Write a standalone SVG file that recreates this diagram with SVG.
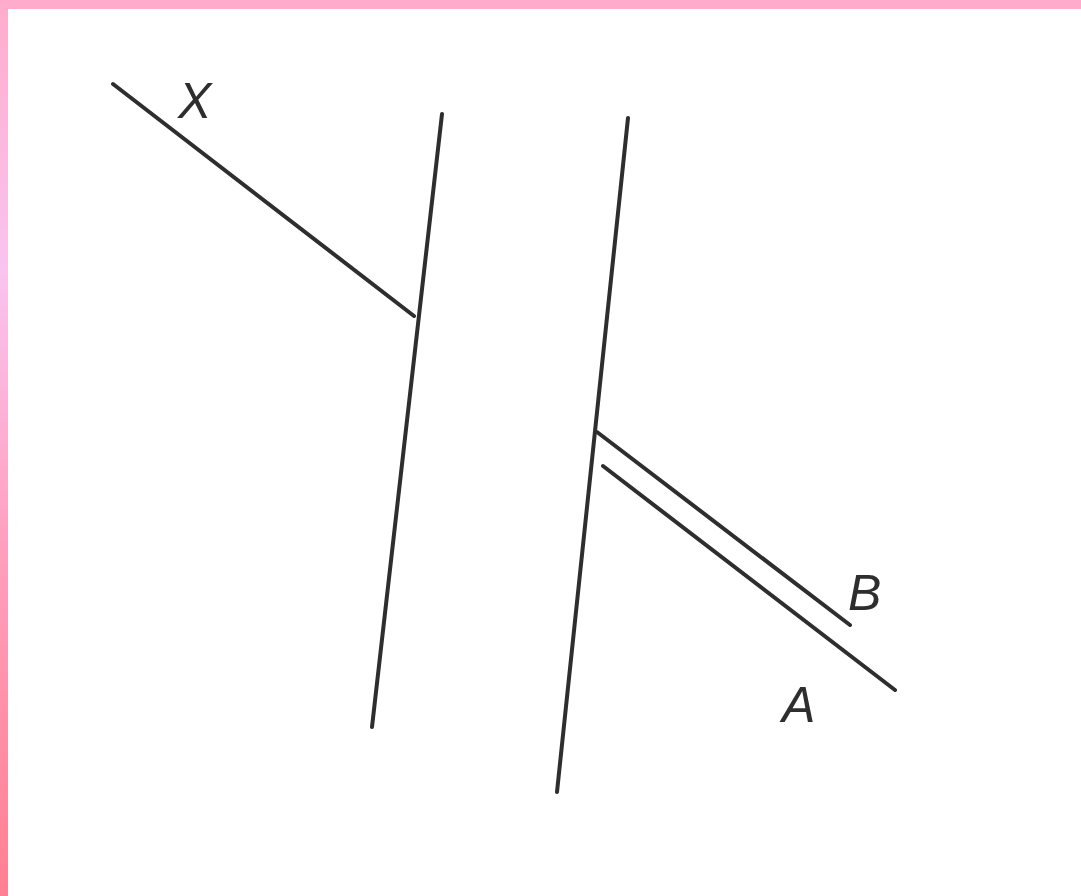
<svg xmlns="http://www.w3.org/2000/svg" width="1081" height="896" viewBox="0 0 1081 896">
<defs>
<linearGradient id="lg" x1="0" y1="0" x2="0" y2="1">
<stop offset="0" stop-color="#ffaccc"/>
<stop offset="0.3" stop-color="#f9c4f0"/>
<stop offset="0.6" stop-color="#ffa0c0"/>
<stop offset="1" stop-color="#ff8090"/>
</linearGradient>
<style>
.ln{stroke:#2e2e2e;stroke-width:4;stroke-linecap:round;fill:none}
.lb{font-family:"Liberation Sans",Arial,sans-serif;font-style:italic;font-size:50px;fill:#2e2e2e}
</style>
</defs>
<rect width="1081" height="896" fill="#ffffff"/>
<rect x="0" y="0" width="1081" height="9" fill="#ffaccc"/>
<rect x="0" y="0" width="8" height="896" fill="url(#lg)"/>
<g id="lines">
<line class="ln" x1="113" y1="84" x2="414" y2="316"/>
<line class="ln" x1="442" y1="114" x2="372" y2="727"/>
<line class="ln" x1="628" y1="118" x2="557" y2="792"/>
<line class="ln" x1="597" y1="432" x2="850" y2="625"/>
<line class="ln" x1="603" y1="466" x2="895" y2="690"/>
</g>
<g id="labels">
<text class="lb" x="178" y="118">X</text>
<text class="lb" x="848" y="610">B</text>
<text class="lb" x="782" y="722">A</text>
</g>
</svg>
